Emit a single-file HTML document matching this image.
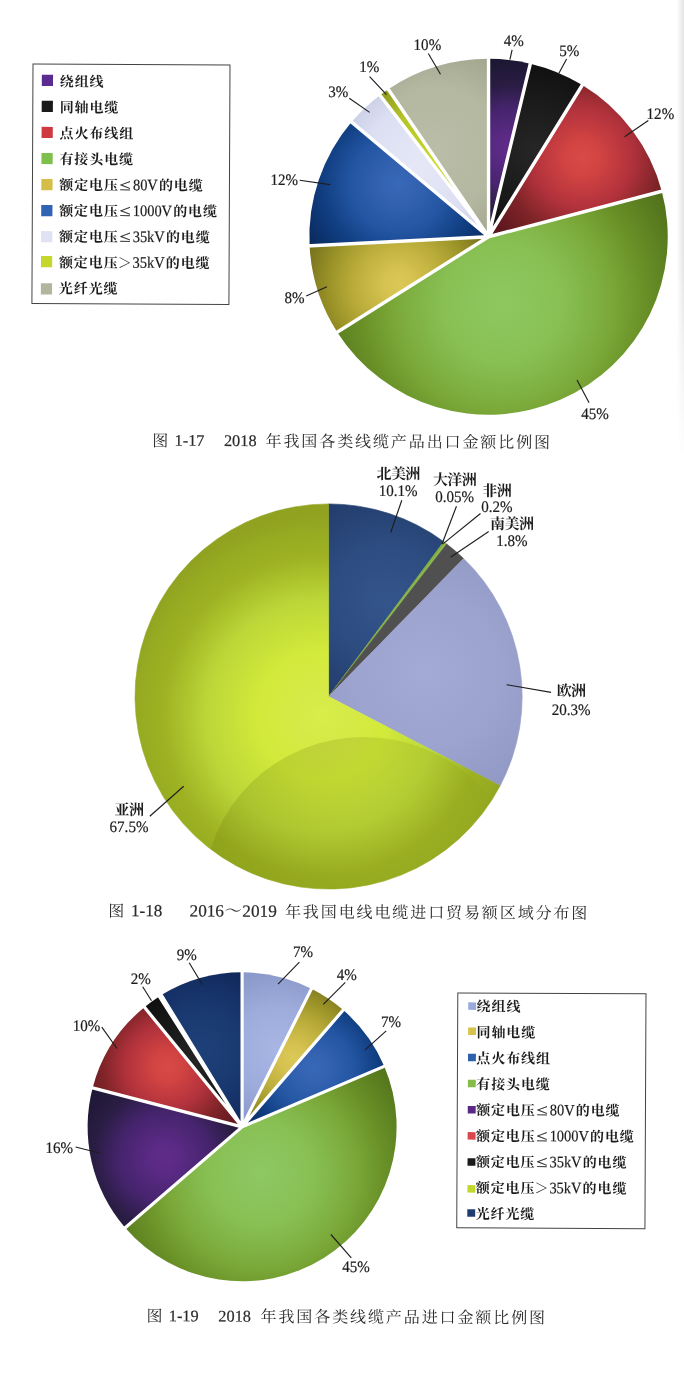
<!DOCTYPE html>
<html lang="zh-CN">
<head>
<meta charset="utf-8">
<title>图 1-17 ~ 图 1-19 线缆产品进出口比例图</title>
<style>
html,body{margin:0;padding:0;background:#fff;}
body{width:684px;height:1373px;overflow:hidden;font-family:"Liberation Serif","Noto Serif CJK SC",serif;}
svg{display:block;filter:blur(.32px);}
svg text{font-family:"Liberation Serif","Noto Serif CJK SC",serif;stroke-width:.2px;text-rendering:geometricPrecision;}
svg text.lg{font-size:14px;font-weight:bold;letter-spacing:.9px;}
svg text.pl{font-size:15px;font-weight:bold;letter-spacing:-.6px;}
svg text.cp{font-size:16px;letter-spacing:1.9px;}
</style>
</head>
<body>
<svg width="684" height="1373" viewBox="0 0 684 1373" role="img">
<defs>
<linearGradient id="edge" x1="0" x2="1" y1="0" y2="0"><stop offset="0" stop-color="#ececec" stop-opacity="0"/><stop offset="0.5" stop-color="#ececec" stop-opacity="0.7"/><stop offset="1" stop-color="#e2e2e2" stop-opacity="0.95"/></linearGradient>
<linearGradient id="edgef" x1="0" x2="0" y1="0" y2="1"><stop offset="0" stop-color="#fff"/><stop offset="0.55" stop-color="#fff"/><stop offset="1" stop-color="#000"/></linearGradient>
<mask id="edgem"><rect x="676.5" y="0" width="7.5" height="460" fill="url(#edgef)"/></mask>
<radialGradient id="g1" cx="509.44" cy="147.75" r="91.42" gradientUnits="userSpaceOnUse"><stop offset="0" stop-color="#5f2d88"/><stop offset="0.15" stop-color="#5a2a84"/><stop offset="0.43" stop-color="#46246e"/><stop offset="0.68" stop-color="#2a1d44"/><stop offset="1" stop-color="#1a1630"/></radialGradient>
<radialGradient id="g2" cx="535.43" cy="150.2" r="98.43" gradientUnits="userSpaceOnUse"><stop offset="0" stop-color="#262626"/><stop offset="0.6" stop-color="#181818"/><stop offset="1" stop-color="#0c0c0c"/></radialGradient>
<radialGradient id="g3" cx="582.18" cy="157.91" r="115.14" gradientUnits="userSpaceOnUse"><stop offset="0" stop-color="#d84a46"/><stop offset="0.15" stop-color="#d24442"/><stop offset="0.43" stop-color="#b2323c"/><stop offset="0.68" stop-color="#7e2428"/><stop offset="1" stop-color="#58141c"/></radialGradient>
<radialGradient id="g4" cx="502.51" cy="303.02" r="199.47" gradientUnits="userSpaceOnUse"><stop offset="0" stop-color="#8ec860"/><stop offset="0.3" stop-color="#88c054"/><stop offset="0.55" stop-color="#7aa838"/><stop offset="0.7" stop-color="#6a9228"/><stop offset="1" stop-color="#4c6c18"/></radialGradient>
<radialGradient id="g5" cx="399.07" cy="284.45" r="101.4" gradientUnits="userSpaceOnUse"><stop offset="0" stop-color="#dcc856"/><stop offset="0.15" stop-color="#d6c250"/><stop offset="0.43" stop-color="#bcae3c"/><stop offset="0.68" stop-color="#9c9428"/><stop offset="1" stop-color="#6e6a1a"/></radialGradient>
<radialGradient id="g6" cx="398.95" cy="183.93" r="108.89" gradientUnits="userSpaceOnUse"><stop offset="0" stop-color="#3868b8"/><stop offset="0.15" stop-color="#3463b2"/><stop offset="0.43" stop-color="#2456a4"/><stop offset="0.68" stop-color="#124084"/><stop offset="0.78" stop-color="#0e3878"/><stop offset="1" stop-color="#0a2858"/></radialGradient>
<radialGradient id="g7" cx="420.03" cy="165.96" r="98.52" gradientUnits="userSpaceOnUse"><stop offset="0" stop-color="#e6e8f7"/><stop offset="0.6" stop-color="#dcdff2"/><stop offset="1" stop-color="#c2c6e0"/></radialGradient>
<radialGradient id="g8" cx="434.24" cy="162.99" r="91.6" gradientUnits="userSpaceOnUse"><stop offset="0" stop-color="#c8da2c"/><stop offset="0.6" stop-color="#b4c428"/><stop offset="1" stop-color="#8a961c"/></radialGradient>
<radialGradient id="g9" cx="438.41" cy="147.75" r="102.15" gradientUnits="userSpaceOnUse"><stop offset="0" stop-color="#babda7"/><stop offset="0.6" stop-color="#b4b8a0"/><stop offset="1" stop-color="#a2a68e"/></radialGradient>
<radialGradient id="g10" cx="322" cy="715" r="200" gradientUnits="userSpaceOnUse"><stop offset="0" stop-color="#daee4a"/><stop offset="0.11" stop-color="#d6ea48"/><stop offset="0.32" stop-color="#d2ea3a"/><stop offset="0.58" stop-color="#bcd638"/><stop offset="0.8" stop-color="#9db122"/><stop offset="0.9" stop-color="#98ac22"/><stop offset="1" stop-color="#90a220"/></radialGradient>
<radialGradient id="g11" cx="386.18" cy="600.2" r="112.2" gradientUnits="userSpaceOnUse"><stop offset="0" stop-color="#34558c"/><stop offset="0.5" stop-color="#2d4c80"/><stop offset="1" stop-color="#223c6c"/></radialGradient>
<radialGradient id="g12" cx="425.4" cy="672.08" r="149.29" gradientUnits="userSpaceOnUse"><stop offset="0" stop-color="#a4aad6"/><stop offset="0.5" stop-color="#9ca3ce"/><stop offset="1" stop-color="#8e96c2"/></radialGradient>
<clipPath id="c2"><path d="M328.6 696.5L500.17 785.73A193.6 192.6 0 1 1 328.6 503.9Z"/></clipPath>
<linearGradient id="ov2" gradientUnits="userSpaceOnUse" x1="300" y1="740" x2="420" y2="880"><stop offset="0" stop-color="#5a6a00" stop-opacity="0.19"/><stop offset="0.6" stop-color="#5a6a00" stop-opacity="0.09"/><stop offset="1" stop-color="#5a6a00" stop-opacity="0"/></linearGradient>
<radialGradient id="g13" cx="276.77" cy="1049.6" r="84.67" gradientUnits="userSpaceOnUse"><stop offset="0" stop-color="#a8b6e4"/><stop offset="0.5" stop-color="#9eacdc"/><stop offset="1" stop-color="#8896c8"/></radialGradient>
<radialGradient id="g14" cx="292.66" cy="1057.82" r="85.57" gradientUnits="userSpaceOnUse"><stop offset="0" stop-color="#dcc856"/><stop offset="0.15" stop-color="#d6c250"/><stop offset="0.43" stop-color="#bcae3c"/><stop offset="0.68" stop-color="#9c9428"/><stop offset="1" stop-color="#6e6a1a"/></radialGradient>
<radialGradient id="g15" cx="313.17" cy="1068.44" r="91.99" gradientUnits="userSpaceOnUse"><stop offset="0" stop-color="#3868b8"/><stop offset="0.15" stop-color="#3463b2"/><stop offset="0.43" stop-color="#2456a4"/><stop offset="0.68" stop-color="#124084"/><stop offset="0.78" stop-color="#0e3878"/><stop offset="1" stop-color="#0a2858"/></radialGradient>
<radialGradient id="g16" cx="260.87" cy="1173.83" r="173.16" gradientUnits="userSpaceOnUse"><stop offset="0" stop-color="#8ec864"/><stop offset="0.3" stop-color="#88c054"/><stop offset="0.55" stop-color="#7aa838"/><stop offset="0.7" stop-color="#6a9228"/><stop offset="1" stop-color="#4c6c18"/></radialGradient>
<radialGradient id="g17" cx="164.85" cy="1157.84" r="104.22" gradientUnits="userSpaceOnUse"><stop offset="0" stop-color="#5f2d88"/><stop offset="0.15" stop-color="#5a2a84"/><stop offset="0.43" stop-color="#46246e"/><stop offset="0.68" stop-color="#2a1d44"/><stop offset="1" stop-color="#1a1630"/></radialGradient>
<radialGradient id="g18" cx="167.35" cy="1067.01" r="95.75" gradientUnits="userSpaceOnUse"><stop offset="0" stop-color="#d84a46"/><stop offset="0.15" stop-color="#d24442"/><stop offset="0.43" stop-color="#b2323c"/><stop offset="0.68" stop-color="#7e2428"/><stop offset="1" stop-color="#58141c"/></radialGradient>
<radialGradient id="g19" cx="193.24" cy="1061.63" r="81.49" gradientUnits="userSpaceOnUse"><stop offset="0" stop-color="#242424"/><stop offset="1" stop-color="#0e0e0e"/></radialGradient>
<radialGradient id="g20" cx="201.74" cy="1049.6" r="87.16" gradientUnits="userSpaceOnUse"><stop offset="0" stop-color="#1e4078"/><stop offset="0.5" stop-color="#193870"/><stop offset="1" stop-color="#10285a"/></radialGradient>
</defs>
<rect width="684" height="1373" fill="#fff"/>
<rect x="676.5" y="0" width="7.5" height="460" fill="url(#edge)" mask="url(#edgem)"/>
<path d="M488.55 236.75L488.55 58.75A179.2 178 0 0 1 530.32 63.65Z" fill="url(#g1)"/>
<path d="M488.55 236.75L530.32 63.65A179.2 178 0 0 1 582.32 85.06Z" fill="url(#g2)"/>
<path d="M488.55 236.75L582.32 85.06A179.2 178 0 0 1 661.8 191.28Z" fill="url(#g3)"/>
<path d="M488.55 236.75L661.8 191.28A179.2 178 0 0 1 337.26 332.15Z" fill="url(#g4)"/>
<path d="M488.55 236.75L337.26 332.15A179.2 178 0 0 1 309.58 245.82Z" fill="url(#g5)"/>
<path d="M488.55 236.75L309.58 245.82A179.2 178 0 0 1 351.52 122.05Z" fill="url(#g6)"/>
<path d="M488.55 236.75L351.52 122.05A179.2 178 0 0 1 379.93 95.17Z" fill="url(#g7)"/>
<path d="M488.55 236.75L379.93 95.17A179.2 178 0 0 1 388.26 89.23Z" fill="url(#g8)"/>
<path d="M488.55 236.75L388.26 89.23A179.2 178 0 0 1 488.55 58.75Z" fill="url(#g9)"/>
<path d="M488.55 236.75L488.55 55.75M488.55 236.75L531.02 60.74M488.55 236.75L583.88 82.5M488.55 236.75L664.71 190.51M488.55 236.75L334.73 333.76M488.55 236.75L306.59 245.97M488.55 236.75L349.22 120.12M488.55 236.75L378.11 92.79M488.55 236.75L386.59 86.75" stroke="#fff" stroke-width="3.4" stroke-linecap="round" fill="none"/>
<text transform="translate(503.8 46.42) scale(0.94 1)" font-size="16" text-anchor="start" fill="#1c1c1c" stroke="#1c1c1c">4%</text>
<line x1="512.1" y1="49.8" x2="509.9" y2="59.7" stroke="#1e1e1e" stroke-width="1.15"/>
<text transform="translate(559.2 55.92) scale(0.94 1)" font-size="16" text-anchor="start" fill="#1c1c1c" stroke="#1c1c1c">5%</text>
<line x1="566.6" y1="59.1" x2="558.9" y2="73.3" stroke="#1e1e1e" stroke-width="1.15"/>
<text transform="translate(646.6 119.12) scale(0.94 1)" font-size="16" text-anchor="start" fill="#1c1c1c" stroke="#1c1c1c">12%</text>
<line x1="648.3" y1="120.6" x2="624.6" y2="136.7" stroke="#1e1e1e" stroke-width="1.15"/>
<text transform="translate(581.2 418.52) scale(0.94 1)" font-size="16" text-anchor="start" fill="#1c1c1c" stroke="#1c1c1c">45%</text>
<line x1="577" y1="380" x2="589.1" y2="402.7" stroke="#1e1e1e" stroke-width="1.15"/>
<text transform="translate(284.5 302.92) scale(0.94 1)" font-size="16" text-anchor="start" fill="#1c1c1c" stroke="#1c1c1c">8%</text>
<line x1="306.2" y1="296" x2="326.9" y2="286.8" stroke="#1e1e1e" stroke-width="1.15"/>
<text transform="translate(270.4 184.92) scale(0.94 1)" font-size="16" text-anchor="start" fill="#1c1c1c" stroke="#1c1c1c">12%</text>
<line x1="299.7" y1="180.2" x2="330.1" y2="184.6" stroke="#1e1e1e" stroke-width="1.15"/>
<text transform="translate(328.3 96.52) scale(0.94 1)" font-size="16" text-anchor="start" fill="#1c1c1c" stroke="#1c1c1c">3%</text>
<line x1="349.3" y1="98.3" x2="369.6" y2="112.4" stroke="#1e1e1e" stroke-width="1.15"/>
<text transform="translate(359.3 72.22) scale(0.94 1)" font-size="16" text-anchor="start" fill="#1c1c1c" stroke="#1c1c1c">1%</text>
<line x1="369.6" y1="76.7" x2="386.5" y2="94.6" stroke="#1e1e1e" stroke-width="1.15"/>
<text transform="translate(413.6 50.12) scale(0.94 1)" font-size="16" text-anchor="start" fill="#1c1c1c" stroke="#1c1c1c">10%</text>
<line x1="428.3" y1="53.5" x2="440.5" y2="74.2" stroke="#1e1e1e" stroke-width="1.15"/>
<g transform="rotate(0.26 33 64)">
<rect x="33" y="64" width="197" height="239.6" fill="none" stroke="#444" stroke-width="1"/>
<rect x="41.9" y="74.7" width="11.2" height="11.2" fill="#5b2b8f"/>
<g fill="#1c1c1c"><text class="lg" x="59.9" y="86.3">绕组线</text></g>
<rect x="41.9" y="100.76" width="11.2" height="11.2" fill="#1a1a1a"/>
<g fill="#1c1c1c"><text class="lg" x="59.9" y="112.16">同轴电缆</text></g>
<rect x="41.9" y="126.82" width="11.2" height="11.2" fill="#cf3a40"/>
<g fill="#1c1c1c"><text class="lg" x="59.9" y="138.02">点火布线组</text></g>
<rect x="41.9" y="152.88" width="11.2" height="11.2" fill="#7fbf4b"/>
<g fill="#1c1c1c"><text class="lg" x="59.9" y="163.88">有接头电缆</text></g>
<rect x="41.9" y="178.94" width="11.2" height="11.2" fill="#d6bd48"/>
<g fill="#1c1c1c"><text class="lg" x="59.9" y="189.74">额定电压</text><text x="120.2" y="189.74" font-size="16" textLength="11.2" lengthAdjust="spacingAndGlyphs" stroke="#1c1c1c">≤</text><text transform="translate(133.5 189.74) scale(0.9 1)" font-size="16" stroke="#1c1c1c">80V</text><text class="lg" x="159.5" y="189.74">的电缆</text></g>
<rect x="41.9" y="205" width="11.2" height="11.2" fill="#2f63b4"/>
<g fill="#1c1c1c"><text class="lg" x="59.9" y="215.6">额定电压</text><text x="120.2" y="215.6" font-size="16" textLength="11.2" lengthAdjust="spacingAndGlyphs" stroke="#1c1c1c">≤</text><text transform="translate(133.5 215.6) scale(0.9 1)" font-size="16" stroke="#1c1c1c">1000V</text><text class="lg" x="173.9" y="215.6">的电缆</text></g>
<rect x="41.9" y="231.06" width="11.2" height="11.2" fill="#dfe2f3"/>
<g fill="#1c1c1c"><text class="lg" x="59.9" y="241.46">额定电压</text><text x="120.2" y="241.46" font-size="16" textLength="11.2" lengthAdjust="spacingAndGlyphs" stroke="#1c1c1c">≤</text><text transform="translate(133.5 241.46) scale(0.9 1)" font-size="16" stroke="#1c1c1c">35kV</text><text class="lg" x="166.7" y="241.46">的电缆</text></g>
<rect x="41.9" y="255.92" width="11.2" height="11.2" fill="#c3d72d"/>
<g fill="#1c1c1c"><text class="lg" x="59.9" y="267.32">额定电压</text><text x="118.7" y="267.32" font-size="14" font-family="&quot;Noto Serif CJK SC&quot;, serif">＞</text><text transform="translate(133.5 267.32) scale(0.9 1)" font-size="16" stroke="#1c1c1c">35kV</text><text class="lg" x="166.7" y="267.32">的电缆</text></g>
<rect x="41.9" y="283.18" width="11.2" height="11.2" fill="#b2b69f"/>
<g fill="#1c1c1c"><text class="lg" x="59.9" y="293.18">光纤光缆</text></g>
</g>
<g transform="rotate(0.26 152 440)">
<g fill="#2a2a2a"><text class="cp" x="152.2" y="446.2">图</text></g>
<text x="174.6" y="445.7" font-size="16.3" text-anchor="start" fill="#2a2a2a" stroke="#2a2a2a">1-17</text>
<text x="224" y="445.7" font-size="16.3" text-anchor="start" fill="#2a2a2a" stroke="#2a2a2a">2018</text>
<g fill="#2a2a2a"><text class="cp" x="265.6" y="446.2">年我国各类线缆产品出口金额比例图</text></g>
</g>
<path d="M328.6 696.5L328.6 503.9A193.6 192.6 0 0 1 443.76 541.68Z" fill="url(#g11)" stroke="url(#g11)" stroke-width="0.6" stroke-linejoin="round"/>
<path d="M328.6 696.5L443.76 541.68A193.6 192.6 0 0 1 445.38 542.89Z" fill="#7fae40" stroke="#7fae40" stroke-width="0.6" stroke-linejoin="round"/>
<path d="M328.6 696.5L445.38 542.89A193.6 192.6 0 0 1 446.72 543.91Z" fill="#8cb844" stroke="#8cb844" stroke-width="0.6" stroke-linejoin="round"/>
<path d="M328.6 696.5L446.72 543.91A193.6 192.6 0 0 1 463.57 558.42Z" fill="#505050" stroke="#505050" stroke-width="0.6" stroke-linejoin="round"/>
<path d="M328.6 696.5L463.57 558.42A193.6 192.6 0 0 1 500.17 785.73Z" fill="url(#g12)" stroke="url(#g12)" stroke-width="0.6" stroke-linejoin="round"/>
<path d="M328.6 696.5L500.17 785.73A193.6 192.6 0 1 1 328.6 503.9Z" fill="url(#g10)" stroke="url(#g10)" stroke-width="0.6" stroke-linejoin="round"/>
<ellipse cx="364" cy="894" rx="160" ry="157" fill="url(#ov2)" clip-path="url(#c2)"/>
<g fill="#1c1c1c"><text class="pl" x="376.5" y="479.38">北美洲</text></g>
<text transform="translate(398.2 495.72) scale(0.94 1)" font-size="16" text-anchor="middle" fill="#1c1c1c" stroke="#1c1c1c">10.1%</text>
<line x1="401.8" y1="500.3" x2="390.7" y2="532.5" stroke="#1e1e1e" stroke-width="1.15"/>
<g fill="#1c1c1c"><text class="pl" x="432.9" y="485.18">大洋洲</text></g>
<text transform="translate(454.6 502.12) scale(0.94 1)" font-size="16" text-anchor="middle" fill="#1c1c1c" stroke="#1c1c1c">0.05%</text>
<line x1="456.5" y1="506.2" x2="441.9" y2="544.2" stroke="#1e1e1e" stroke-width="1.15"/>
<g fill="#1c1c1c"><text class="pl" x="482.3" y="495.58">非洲</text></g>
<text transform="translate(496.8 512.42) scale(0.94 1)" font-size="16" text-anchor="middle" fill="#1c1c1c" stroke="#1c1c1c">0.2%</text>
<line x1="480.5" y1="513.5" x2="443.3" y2="543.6" stroke="#1e1e1e" stroke-width="1.15"/>
<g fill="#1c1c1c"><text class="pl" x="490.1" y="529.38">南美洲</text></g>
<text transform="translate(511.8 546.02) scale(0.94 1)" font-size="16" text-anchor="middle" fill="#1c1c1c" stroke="#1c1c1c">1.8%</text>
<line x1="488.7" y1="531.6" x2="450.6" y2="557.3" stroke="#1e1e1e" stroke-width="1.15"/>
<g fill="#1c1c1c"><text class="pl" x="556.7" y="696.38">欧洲</text></g>
<text transform="translate(571.2 714.72) scale(0.94 1)" font-size="16" text-anchor="middle" fill="#1c1c1c" stroke="#1c1c1c">20.3%</text>
<line x1="551.1" y1="692.4" x2="506.7" y2="684.7" stroke="#1e1e1e" stroke-width="1.15"/>
<g fill="#1c1c1c"><text class="pl" x="114.5" y="814.98">亚洲</text></g>
<text transform="translate(129 831.92) scale(0.94 1)" font-size="16" text-anchor="middle" fill="#1c1c1c" stroke="#1c1c1c">67.5%</text>
<line x1="149.8" y1="816.3" x2="183.7" y2="786.2" stroke="#1e1e1e" stroke-width="1.15"/>
<g transform="rotate(0.26 108 910)">
<g fill="#2a2a2a"><text class="cp" x="108.4" y="916.6">图</text></g>
<text x="131" y="916.1" font-size="17" text-anchor="start" fill="#2a2a2a" stroke="#2a2a2a">1-18</text>
<g fill="#2a2a2a"><text x="189.6" y="916.1" font-size="17.2" stroke="#2a2a2a">2016</text><text x="224.7" y="916.1" font-size="17" font-family="&quot;Noto Serif CJK SC&quot;, serif">～</text><text x="242.4" y="916.1" font-size="17.2" stroke="#2a2a2a">2019</text></g>
<g fill="#2a2a2a"><text class="cp" x="285" y="916.6">年我国电线电缆进口贸易额区域分布图</text></g>
</g>
<path d="M242.1 1126.85L242.1 972.35A154.5 154.5 0 0 1 311.45 988.79Z" fill="url(#g13)"/>
<path d="M242.1 1126.85L311.45 988.79A154.5 154.5 0 0 1 343.22 1010.04Z" fill="url(#g14)"/>
<path d="M242.1 1126.85L343.22 1010.04A154.5 154.5 0 0 1 384.24 1066.31Z" fill="url(#g15)"/>
<path d="M242.1 1126.85L384.24 1066.31A154.5 154.5 0 0 1 125.14 1227.8Z" fill="url(#g16)"/>
<path d="M242.1 1126.85L125.14 1227.8A154.5 154.5 0 0 1 92.6 1087.88Z" fill="url(#g17)"/>
<path d="M242.1 1126.85L92.6 1087.88A154.5 154.5 0 0 1 144.39 1007.17Z" fill="url(#g18)"/>
<path d="M242.1 1126.85L144.39 1007.17A154.5 154.5 0 0 1 159.31 996.4Z" fill="url(#g19)"/>
<path d="M242.1 1126.85L159.31 996.4A154.5 154.5 0 0 1 161.37 995.12Z" fill="#c3d72d"/>
<path d="M242.1 1126.85L161.37 995.12A154.5 154.5 0 0 1 242.1 972.35Z" fill="url(#g20)"/>
<path d="M242.1 1126.85L242.1 969.35M242.1 1126.85L312.79 986.11M242.1 1126.85L345.18 1007.77M242.1 1126.85L387 1065.13M242.1 1126.85L122.87 1229.76M242.1 1126.85L89.69 1087.12M242.1 1126.85L142.49 1004.85M242.1 1126.85L157.71 993.87M242.1 1126.85L159.81 992.56" stroke="#fff" stroke-width="3.2" stroke-linecap="round" fill="none"/>
<text transform="translate(292.9 956.92) scale(0.94 1)" font-size="16" text-anchor="start" fill="#1c1c1c" stroke="#1c1c1c">7%</text>
<line x1="299.4" y1="962.2" x2="278" y2="984.1" stroke="#1e1e1e" stroke-width="1.15"/>
<text transform="translate(336.8 980.32) scale(0.94 1)" font-size="16" text-anchor="start" fill="#1c1c1c" stroke="#1c1c1c">4%</text>
<line x1="345.3" y1="982.4" x2="323.3" y2="1004.3" stroke="#1e1e1e" stroke-width="1.15"/>
<text transform="translate(380.9 1027.12) scale(0.94 1)" font-size="16" text-anchor="start" fill="#1c1c1c" stroke="#1c1c1c">7%</text>
<line x1="386.2" y1="1030.9" x2="365.1" y2="1049.9" stroke="#1e1e1e" stroke-width="1.15"/>
<text transform="translate(342.3 1272.22) scale(0.94 1)" font-size="16" text-anchor="start" fill="#1c1c1c" stroke="#1c1c1c">45%</text>
<line x1="330.9" y1="1234.5" x2="351.3" y2="1257.9" stroke="#1e1e1e" stroke-width="1.15"/>
<text transform="translate(45.4 1153.32) scale(0.94 1)" font-size="16" text-anchor="start" fill="#1c1c1c" stroke="#1c1c1c">16%</text>
<line x1="75.6" y1="1147" x2="100.2" y2="1153.2" stroke="#1e1e1e" stroke-width="1.15"/>
<text transform="translate(72.8 1030.62) scale(0.94 1)" font-size="16" text-anchor="start" fill="#1c1c1c" stroke="#1c1c1c">10%</text>
<line x1="101.8" y1="1027.1" x2="117" y2="1048.5" stroke="#1e1e1e" stroke-width="1.15"/>
<text transform="translate(130.8 983.82) scale(0.94 1)" font-size="16" text-anchor="start" fill="#1c1c1c" stroke="#1c1c1c">2%</text>
<line x1="142.7" y1="986.8" x2="151.5" y2="1000.8" stroke="#1e1e1e" stroke-width="1.15"/>
<text transform="translate(176.7 959.82) scale(0.94 1)" font-size="16" text-anchor="start" fill="#1c1c1c" stroke="#1c1c1c">9%</text>
<line x1="189.2" y1="962.8" x2="202.4" y2="984.7" stroke="#1e1e1e" stroke-width="1.15"/>
<g transform="rotate(0.26 457.5 993)">
<rect x="457.8" y="993" width="188.2" height="234.8" fill="none" stroke="#444" stroke-width="1"/>
<rect x="468.3" y="1002.3" width="7.9" height="7.5" fill="#98a9dc"/>
<g fill="#1c1c1c"><text class="lg" x="476.7" y="1011.2">绕组线</text></g>
<rect x="468.3" y="1027.45" width="7.9" height="7.5" fill="#d6c24c"/>
<g fill="#1c1c1c"><text class="lg" x="476.7" y="1037.13">同轴电缆</text></g>
<rect x="468.3" y="1053.6" width="7.9" height="7.5" fill="#2f60ac"/>
<g fill="#1c1c1c"><text class="lg" x="476.7" y="1063.06">点火布线组</text></g>
<rect x="468.3" y="1079.75" width="7.9" height="7.5" fill="#86bc48"/>
<g fill="#1c1c1c"><text class="lg" x="476.7" y="1088.99">有接头电缆</text></g>
<rect x="468.3" y="1105.9" width="7.9" height="7.5" fill="#5a2888"/>
<g fill="#1c1c1c"><text class="lg" x="476.7" y="1114.92">额定电压</text><text x="537" y="1114.92" font-size="16" textLength="11.2" lengthAdjust="spacingAndGlyphs" stroke="#1c1c1c">≤</text><text transform="translate(550.3 1114.92) scale(0.9 1)" font-size="16" stroke="#1c1c1c">80V</text><text class="lg" x="576.3" y="1114.92">的电缆</text></g>
<rect x="468.3" y="1132.05" width="7.9" height="7.5" fill="#d8474a"/>
<g fill="#1c1c1c"><text class="lg" x="476.7" y="1140.85">额定电压</text><text x="537" y="1140.85" font-size="16" textLength="11.2" lengthAdjust="spacingAndGlyphs" stroke="#1c1c1c">≤</text><text transform="translate(550.3 1140.85) scale(0.9 1)" font-size="16" stroke="#1c1c1c">1000V</text><text class="lg" x="590.7" y="1140.85">的电缆</text></g>
<rect x="468.3" y="1158.2" width="7.9" height="7.5" fill="#1a1a1a"/>
<g fill="#1c1c1c"><text class="lg" x="476.7" y="1166.78">额定电压</text><text x="537" y="1166.78" font-size="16" textLength="11.2" lengthAdjust="spacingAndGlyphs" stroke="#1c1c1c">≤</text><text transform="translate(550.3 1166.78) scale(0.9 1)" font-size="16" stroke="#1c1c1c">35kV</text><text class="lg" x="583.5" y="1166.78">的电缆</text></g>
<rect x="468.3" y="1185.05" width="7.9" height="7.5" fill="#c3d72d"/>
<g fill="#1c1c1c"><text class="lg" x="476.7" y="1192.71">额定电压</text><text x="535.5" y="1192.71" font-size="14" font-family="&quot;Noto Serif CJK SC&quot;, serif">＞</text><text transform="translate(550.3 1192.71) scale(0.9 1)" font-size="16" stroke="#1c1c1c">35kV</text><text class="lg" x="583.5" y="1192.71">的电缆</text></g>
<rect x="468.3" y="1209.1" width="7.9" height="7.5" fill="#1f3c72"/>
<g fill="#1c1c1c"><text class="lg" x="476.7" y="1218.64">光纤光缆</text></g>
</g>
<g transform="rotate(0.26 147 1315)">
<g fill="#2a2a2a"><text class="cp" x="146.6" y="1321.6">图</text></g>
<text x="168.8" y="1321.1" font-size="16.3" text-anchor="start" fill="#2a2a2a" stroke="#2a2a2a">1-19</text>
<text x="218.4" y="1321.1" font-size="16.3" text-anchor="start" fill="#2a2a2a" stroke="#2a2a2a">2018</text>
<g fill="#2a2a2a"><text class="cp" x="260.6" y="1321.6">年我国各类线缆产品进口金额比例图</text></g>
</g>
</svg>
</body>
</html>
